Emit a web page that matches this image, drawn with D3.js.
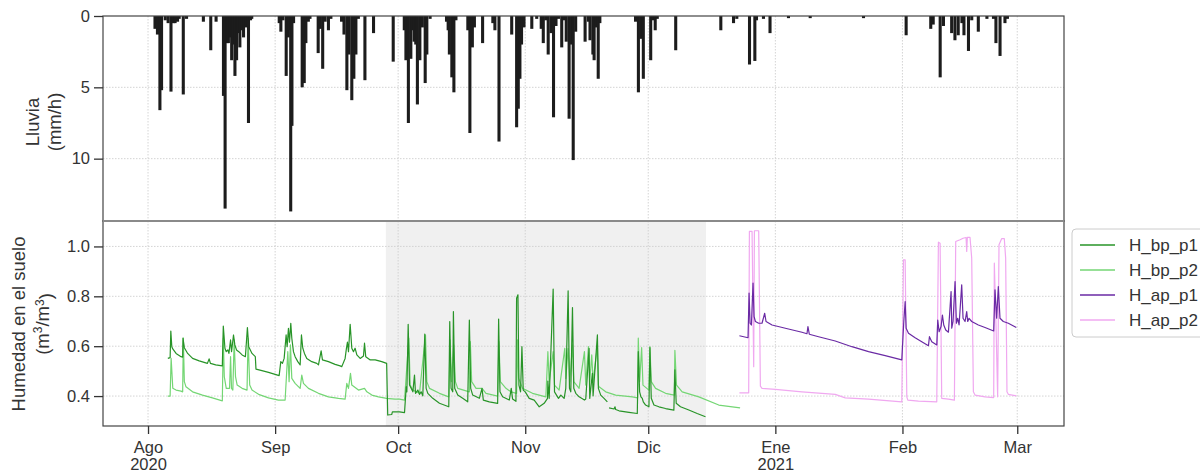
<!DOCTYPE html>
<html>
<head>
<meta charset="utf-8">
<script src="https://cdn.jsdelivr.net/npm/d3@7"></script>
<style>
  body { margin: 0; background: #fff; }
  svg { display: block; font-family: "Liberation Sans", Arial, sans-serif; }
</style>
</head>
<body>
<div id="chart"></div>
<script>
// days are counted from 2020-08-01 (UTC)
var BASE = Date.UTC(2020, 7, 1);

var monthTicks = ["2020-08-01", "2020-09-01", "2020-10-01", "2020-11-01", "2020-12-01", "2021-01-01", "2021-02-01", "2021-03-01"];
var monthLabels = ["Ago", "Sep", "Oct", "Nov", "Dic", "Ene", "Feb", "Mar"];
var yearLabels = ["2020", "", "", "", "", "2021", "", ""];

var rainTicks = [0, 5, 10];
var soilTicks = [0.4, 0.6, 0.8, 1.0];

// shaded period (days)
var shadePeriod = [58.0, 136.1];

// rain, [day, mm/h]
var rain = [
  [1.7, 0.9], [2.3, 1.3], [2.9, 6.6], [3.3, 5.2], [4.2, 0.3], [4.9, 0.5], [5.6, 5.3], [6.2, 0.5],
  [6.6, 0.5], [7.2, 0.4], [7.6, 0.2], [8.6, 5.5], [9.4, 0.2], [13.5, 0.4], [15.3, 2.4], [16.6, 0.4],
  [18.4, 5.6], [18.8, 13.5], [19.3, 1.9], [19.6, 1.9], [20.0, 1.5], [20.4, 3.1], [20.8, 2.0], [21.2, 4.2],
  [21.6, 3.1], [22.0, 1.2], [22.4, 2.2], [22.9, 1.0], [23.3, 1.5], [23.9, 0.8], [24.5, 7.5], [25.0, 0.3],
  [25.3, 0.2], [32.0, 0.5], [32.4, 1.1], [32.9, 0.3], [33.7, 4.2], [34.2, 1.5], [34.5, 1.0], [34.8, 13.7],
  [35.1, 7.7], [35.5, 0.5], [37.6, 5.0], [38.1, 4.7], [38.5, 1.9], [39.1, 0.4], [39.5, 0.2], [41.5, 2.6],
  [42.0, 0.9], [42.6, 3.7], [43.2, 0.4], [44.0, 1.0], [44.6, 0.2], [47.2, 0.4], [47.8, 1.3], [48.5, 5.2],
  [49.0, 2.7], [49.7, 5.9], [50.2, 4.4], [50.7, 2.7], [51.3, 0.2], [52.9, 4.5], [55.0, 1.2], [59.8, 3.2],
  [62.5, 1.0], [62.9, 3.1], [63.5, 7.5], [64.1, 3.0], [64.5, 1.0], [64.9, 1.8], [65.3, 2.0], [65.7, 6.2],
  [66.3, 3.1], [66.9, 0.8], [67.6, 4.7], [68.0, 2.7], [68.8, 0.2], [72.8, 0.4], [73.2, 1.0], [73.5, 2.7],
  [74.1, 4.3], [74.6, 5.35], [75.1, 0.3], [78.0, 1.0], [78.5, 8.2], [79.1, 2.2], [79.6, 0.8], [81.6, 1.9],
  [84.1, 0.5], [84.6, 1.0], [85.6, 8.8], [88.7, 1.3], [89.9, 7.8], [90.3, 6.5], [90.7, 4.4], [91.1, 2.0],
  [91.7, 0.8], [93.6, 0.9], [94.8, 0.2], [95.9, 0.9], [96.4, 1.9], [97.0, 0.3], [97.6, 2.7], [98.3, 1.2],
  [98.9, 7.1], [99.5, 0.7], [100.1, 0.2], [100.9, 2.2], [101.5, 0.3], [102.0, 1.8], [102.7, 7.2], [103.3, 2.0],
  [103.7, 10.1], [104.3, 1.1], [106.6, 1.8], [107.4, 0.4], [107.8, 1.7], [108.5, 2.7], [108.8, 3.1], [109.3, 0.8],
  [109.8, 4.4], [110.2, 0.5], [118.9, 0.4], [119.6, 5.35], [120.2, 1.6], [120.8, 4.4], [122.6, 3.1], [123.2, 0.3],
  [123.7, 1.0], [124.2, 0.2], [128.7, 2.4], [139.7, 1.0], [142.8, 0.5], [143.6, 0.2], [146.7, 3.4], [148.0, 3.15],
  [148.4, 0.3], [150.1, 0.2], [151.7, 1.2], [156.2, 0.15], [161.5, 0.15], [174.5, 0.15], [184.9, 1.35], [190.9, 0.9],
  [191.5, 0.6], [193.2, 4.3], [194.0, 0.7], [196.0, 1.2], [196.8, 1.7], [197.6, 1.35], [198.5, 0.5], [199.0, 1.35],
  [200.1, 2.45], [200.9, 0.3], [202.5, 1.1], [204.6, 0.2], [206.2, 0.2], [206.8, 1.9], [207.8, 2.8], [209.0, 0.5],
  [209.6, 0.2]
];

// soil moisture, [day, m3/m3]; null breaks the line
var H_bp_p1 = [
  [4.83, 0.551], [5.39, 0.554], [5.56, 0.661], [5.80, 0.598], [6.04, 0.589], [6.84, 0.571], [8.05, 0.558], [8.45, 0.556],
  [8.53, 0.632], [8.86, 0.594], [9.66, 0.571], [10.87, 0.551], [12.48, 0.541], [14.49, 0.531], [14.90, 0.549], [15.22, 0.531],
  [16.51, 0.525], [18.12, 0.521], [18.36, 0.681], [18.76, 0.592], [19.08, 0.578], [19.48, 0.585], [19.73, 0.571], [20.13, 0.625],
  [20.37, 0.578], [20.85, 0.645], [21.18, 0.605], [21.58, 0.585], [22.14, 0.578], [22.95, 0.565], [23.75, 0.558], [24.24, 0.675],
  [24.56, 0.598], [25.36, 0.571], [26.17, 0.558], [26.33, 0.508], [27.78, 0.502], [29.39, 0.495], [31.0, 0.487], [31.98, 0.482],
  [32.38, 0.538], [32.79, 0.531], [33.2, 0.551], [33.68, 0.645], [33.93, 0.598], [34.25, 0.672], [34.5, 0.616], [34.82, 0.692],
  [35.07, 0.632], [35.47, 0.578], [35.88, 0.558], [36.53, 0.538], [37.1, 0.525], [37.42, 0.645], [37.75, 0.592], [38.15, 0.571],
  [38.72, 0.551], [39.94, 0.538], [41.16, 0.531], [41.57, 0.525], [42.22, 0.581], [42.54, 0.545], [44.0, 0.538], [45.63, 0.527],
  [46.85, 0.521], [47.26, 0.518], [48.07, 0.551], [48.4, 0.592], [48.64, 0.616], [48.89, 0.578], [49.3, 0.688], [49.7, 0.592],
  [50.11, 0.578], [50.5, 0.592], [50.93, 0.565], [51.74, 0.551], [52.55, 0.561], [52.8, 0.612], [53.1, 0.558], [54.2, 0.545],
  [55.4, 0.545], [57.0, 0.538], [58.2, 0.531], [58.46, 0.324], [59.43, 0.326], [59.6, 0.337], [61.34, 0.337], [62.56, 0.334],
  [62.97, 0.437], [63.13, 0.417], [63.45, 0.688], [63.78, 0.444], [64.18, 0.431], [64.59, 0.417], [64.99, 0.484], [65.24, 0.411],
  [65.8, 0.424], [66.21, 0.407], [66.61, 0.417], [67.02, 0.401], [67.5, 0.648], [67.83, 0.431], [68.24, 0.411], [69.45, 0.391],
  [71.08, 0.371], [73.35, 0.357], [73.59, 0.699], [73.91, 0.431], [74.32, 0.417], [74.48, 0.739], [74.8, 0.431], [75.54, 0.404],
  [76.75, 0.391], [77.97, 0.377], [78.37, 0.705], [78.7, 0.431], [79.19, 0.404], [80.81, 0.391], [81.46, 0.431], [81.78, 0.384],
  [83.24, 0.377], [85.27, 0.371], [85.51, 0.709], [85.84, 0.417], [86.48, 0.397], [88.11, 0.384], [88.59, 0.431], [88.92, 0.388],
  [89.73, 0.379], [89.89, 0.792], [90.22, 0.806], [90.46, 0.444], [90.86, 0.417], [91.19, 0.598], [91.51, 0.424], [92.0, 0.417],
  [92.97, 0.391], [94.19, 0.384], [95.41, 0.357], [96.62, 0.371], [97.43, 0.391], [97.52, 0.46], [97.84, 0.391], [98.81, 0.829],
  [99.14, 0.417], [100.11, 0.391], [100.68, 0.404], [101.49, 0.391], [101.89, 0.431], [102.46, 0.822], [102.79, 0.431], [103.11, 0.417],
  [103.52, 0.755], [103.84, 0.431], [104.33, 0.411], [105.14, 0.397], [106.44, 0.384], [106.76, 0.388], [107.57, 0.591], [107.73, 0.391],
  [108.38, 0.491], [108.55, 0.401], [109.6, 0.645], [109.84, 0.431], [110.41, 0.404], [111.22, 0.391], [112.03, 0.377], null,
  [112.44, 0.353], [113.65, 0.348], [113.9, 0.357], [114.06, 0.346], [114.87, 0.341], [117.3, 0.335], [119.33, 0.33], [119.57, 0.578],
  [119.9, 0.417], [120.22, 0.397], [120.55, 0.391], [120.79, 0.377], [121.36, 0.364], [122.17, 0.357], [122.41, 0.594], [122.74, 0.391],
  [123.39, 0.364], [124.6, 0.357], [126.23, 0.350], [128.25, 0.344], [128.5, 0.505], [128.82, 0.371], [129.87, 0.357], [131.9, 0.344],
  [133.93, 0.330], [135.96, 0.317]
];

var H_bp_p2 = [
  [4.83, 0.400], [5.39, 0.400], [5.64, 0.551], [6.04, 0.431], [6.84, 0.424], [8.05, 0.420], [8.45, 0.417], [8.61, 0.632],
  [8.86, 0.458], [9.26, 0.437], [10.87, 0.417], [13.29, 0.404], [15.7, 0.393], [18.12, 0.381], [18.36, 0.632], [18.6, 0.478],
  [19.08, 0.431], [19.48, 0.431], [19.89, 0.431], [20.13, 0.558], [20.37, 0.431], [20.69, 0.424], [21.01, 0.625], [21.34, 0.478],
  [21.74, 0.444], [22.95, 0.431], [24.15, 0.424], [24.4, 0.632], [24.8, 0.444], [25.36, 0.424], [26.97, 0.407], [29.39, 0.393],
  [31.81, 0.384], [33.44, 0.384], [34.09, 0.578], [34.41, 0.458], [34.74, 0.605], [35.07, 0.471], [35.88, 0.451], [37.1, 0.431],
  [37.5, 0.484], [37.91, 0.451], [39.13, 0.431], [41.57, 0.411], [44.0, 0.397], [46.45, 0.391], [48.07, 0.388], [48.48, 0.451],
  [48.89, 0.431], [49.38, 0.491], [49.7, 0.444], [51.33, 0.424], [52.8, 0.431], [53.37, 0.417], [54.6, 0.404], [56.2, 0.397],
  [58.2, 0.391], [60.24, 0.388], [61.34, 0.388], [62.56, 0.384], [63.61, 0.632], [63.94, 0.444], [64.59, 0.424], [66.21, 0.411],
  [67.67, 0.645], [67.99, 0.458], [68.64, 0.431], [71.08, 0.411], [73.35, 0.397], [73.67, 0.625], [74.0, 0.458], [74.56, 0.605],
  [74.97, 0.458], [75.54, 0.431], [78.37, 0.417], [78.61, 0.618], [78.94, 0.458], [80.0, 0.431], [81.46, 0.431], [82.43, 0.411],
  [85.27, 0.400], [85.59, 0.618], [85.92, 0.458], [87.3, 0.431], [88.51, 0.417], [89.89, 0.411], [90.13, 0.625], [90.38, 0.471],
  [90.7, 0.458], [91.35, 0.431], [93.78, 0.411], [97.03, 0.397], [97.52, 0.578], [97.84, 0.458], [98.81, 0.578], [99.14, 0.444],
  [100.27, 0.424], [101.65, 0.591], [101.89, 0.471], [102.46, 0.591], [102.87, 0.458], [103.52, 0.605], [103.84, 0.458], [105.14, 0.431],
  [106.44, 0.578], [106.76, 0.444], [107.41, 0.598], [107.73, 0.458], [108.22, 0.565], [108.55, 0.458], [109.6, 0.600], [109.84, 0.444],
  [110.0, 0.437], [111.63, 0.417], [114.06, 0.404], [118.11, 0.397], [119.41, 0.393], [119.57, 0.632], [119.9, 0.458], [120.39, 0.594],
  [120.71, 0.444], [122.17, 0.424], [122.41, 0.598], [122.74, 0.458], [123.79, 0.431], [126.23, 0.411], [128.33, 0.404], [128.5, 0.583],
  [128.9, 0.444], [130.28, 0.417], [134.34, 0.397], [139.2, 0.364], [144.4, 0.353]
];

var H_ap_p1 = [
  [144.23, 0.642], [145.29, 0.638], [146.34, 0.634], [146.59, 0.813], [146.83, 0.692], [147.16, 0.685], [147.56, 0.853], [147.81, 0.719],
  [148.13, 0.699], [148.94, 0.692], [149.75, 0.692], [150.4, 0.732], [150.73, 0.699], [152.19, 0.685], [155.44, 0.672], [159.49, 0.656],
  [160.71, 0.650], [160.95, 0.679], [161.28, 0.648], [163.55, 0.638], [167.61, 0.621], [171.67, 0.598], [175.73, 0.578], [179.79, 0.562],
  [183.84, 0.545], [184.33, 0.699], [184.66, 0.779], [184.9, 0.672], [185.47, 0.652], [187.09, 0.634], [188.71, 0.618], [190.34, 0.602],
  [190.58, 0.638], [191.15, 0.618], [192.37, 0.605], [192.61, 0.705], [192.94, 0.658], [193.42, 0.679], [193.75, 0.725], [194.07, 0.685],
  [194.56, 0.665], [195.21, 0.656], [195.86, 0.819], [196.02, 0.672], [196.34, 0.699], [196.83, 0.859], [197.16, 0.692], [197.48, 0.712],
  [197.81, 0.685], [198.45, 0.846], [198.78, 0.712], [199.27, 0.699], [199.67, 0.739], [199.92, 0.699], [200.24, 0.712], [200.89, 0.699],
  [202.51, 0.685], [204.14, 0.675], [206.25, 0.661], [206.57, 0.826], [206.98, 0.712], [207.38, 0.839], [207.79, 0.712], [208.6, 0.699],
  [209.82, 0.692], [211.77, 0.675]
];

var H_ap_p2 = [
  [144.23, 0.413], [146.5, 0.413], [146.67, 1.06], [147.32, 1.06], [147.72, 0.518], [147.89, 1.063], [148.94, 1.063], [149.35, 0.44],
  [149.75, 0.431], [153.0, 0.427], [159.49, 0.417], [167.61, 0.407], [170.05, 0.393], [175.73, 0.388], [183.84, 0.377], [184.25, 0.946],
  [184.66, 0.946], [185.06, 0.397], [185.31, 0.384], [187.9, 0.380], [192.37, 0.377], [192.77, 1.017], [193.18, 1.013], [193.58, 0.391],
  [195.21, 0.388], [196.67, 0.384], [196.99, 1.02], [198.05, 1.027], [198.78, 1.033], [199.51, 1.036], [199.67, 0.98], [199.83, 1.036],
  [200.48, 1.036], [200.89, 0.953], [201.3, 0.417], [201.7, 0.404], [204.14, 0.397], [206.25, 0.394], [206.41, 0.933], [206.81, 0.69],
  [207.22, 0.397], [207.55, 1.007], [208.19, 1.031], [208.84, 1.031], [209.17, 0.953], [209.49, 0.417], [209.82, 0.407], [211.77, 0.401]
];

var seriesNames = ["H_bp_p1", "H_bp_p2", "H_ap_p1", "H_ap_p2"];
var seriesData = [H_bp_p1, H_bp_p2, H_ap_p1, H_ap_p2];
var seriesColors = ["#289428", "#74d674", "#6a2aa4", "#f0a8f0"];

function dayToDate(d) { return new Date(BASE + d * 864e5); }

var W = 1200, H = 475;
var left = 103, right = 1064;
var topY0 = 16, topY1 = 221;   // rain panel
var botY0 = 221, botY1 = 426;  // soil panel

var svg = d3.select("#chart").append("svg")
    .attr("width", W)
    .attr("height", H);

var x = d3.scaleUtc()
    .domain([dayToDate(-10.98), dayToDate(223.4)])
    .range([left, right]);

var yRain = d3.scaleLinear().domain([0, 14.37]).range([topY0, topY1]);
var ySoil = d3.scaleLinear().domain([0.28, 1.102]).range([botY1, botY0]);

var tickDates = monthTicks.map(function (s) { return new Date(s + "T00:00:00Z"); });

// shaded period in soil panel
svg.append("rect")
    .attr("x", x(dayToDate(shadePeriod[0])))
    .attr("y", botY0)
    .attr("width", x(dayToDate(shadePeriod[1])) - x(dayToDate(shadePeriod[0])))
    .attr("height", botY1 - botY0)
    .attr("fill", "#f0f0f0");

// grid
var grid = svg.append("g")
    .attr("stroke", "#cfcfcf")
    .attr("stroke-width", 0.9)
    .attr("stroke-dasharray", "1.5,1.5");

[[topY0, topY1], [botY0, botY1]].forEach(function (p) {
    grid.selectAll(null)
        .data(tickDates)
        .enter().append("line")
        .attr("x1", function (d) { return x(d); })
        .attr("x2", function (d) { return x(d); })
        .attr("y1", p[0])
        .attr("y2", p[1]);
});
grid.selectAll(null)
    .data(rainTicks.slice(1))
    .enter().append("line")
    .attr("x1", left).attr("x2", right)
    .attr("y1", function (d) { return yRain(d); })
    .attr("y2", function (d) { return yRain(d); });
grid.selectAll(null)
    .data(soilTicks)
    .enter().append("line")
    .attr("x1", left).attr("x2", right)
    .attr("y1", function (d) { return ySoil(d); })
    .attr("y2", function (d) { return ySoil(d); });

// rain bars (hanging from the top)
var barW = x(dayToDate(0.75)) - x(dayToDate(0));
svg.append("g")
    .attr("clip-path", "url(#clipTop)")
    .selectAll("rect")
    .data(rain)
    .enter().append("rect")
    .attr("x", function (d) { return x(dayToDate(d[0])) - barW / 2; })
    .attr("y", yRain(0))
    .attr("width", barW)
    .attr("height", function (d) { return yRain(d[1]) - yRain(0); })
    .attr("fill", "#1c1c1c");

// soil moisture lines
var line = d3.line()
    .defined(function (d) { return d !== null; })
    .x(function (d) { return x(dayToDate(d[0])); })
    .y(function (d) { return ySoil(d[1]); });

// draw light ones first so darker traces sit on top
var drawOrder = [1, 0, 3, 2];
drawOrder.forEach(function (i) {
    svg.append("path")
        .datum(seriesData[i])
        .attr("fill", "none")
        .attr("stroke", seriesColors[i])
        .attr("stroke-width", 1.2)
        .attr("stroke-linejoin", "round")
        .attr("d", line);
});

// frames
svg.append("rect")
    .attr("x", left).attr("y", topY0)
    .attr("width", right - left).attr("height", topY1 - topY0)
    .attr("fill", "none").attr("stroke", "#444").attr("stroke-width", 1.2);
svg.append("rect")
    .attr("x", left).attr("y", botY0)
    .attr("width", right - left).attr("height", botY1 - botY0)
    .attr("fill", "none").attr("stroke", "#444").attr("stroke-width", 1.2);
svg.append("line")
    .attr("x1", left).attr("x2", right)
    .attr("y1", topY1).attr("y2", topY1)
    .attr("stroke", "#8a8a8a").attr("stroke-width", 2);

// axes
function styleAxis(g) {
    g.select(".domain").remove();
    g.selectAll(".tick line").attr("stroke", "#333").attr("stroke-width", 1.3);
    g.selectAll(".tick text").attr("fill", "#333").attr("font-size", "16.5px");
}

svg.append("g")
    .attr("transform", "translate(" + left + ",0)")
    .call(d3.axisLeft(yRain).tickValues(rainTicks).tickSize(9).tickPadding(4).tickFormat(d3.format("d")))
    .call(styleAxis);

svg.append("g")
    .attr("transform", "translate(" + left + ",0)")
    .call(d3.axisLeft(ySoil).tickValues(soilTicks).tickSize(9).tickPadding(4).tickFormat(d3.format(".1f")))
    .call(styleAxis);

var xAxis = svg.append("g")
    .attr("transform", "translate(0," + botY1 + ")")
    .call(d3.axisBottom(x).tickValues(tickDates).tickSize(8).tickPadding(7)
        .tickFormat(function (d, i) { return monthLabels[i]; }))
    .call(styleAxis);

xAxis.selectAll(".tick text")
    .each(function (d, i) {
        if (yearLabels[i]) {
            d3.select(this).append("tspan")
                .attr("x", 0)
                .attr("dy", "1.05em")
                .text(yearLabels[i]);
        }
    });

// axis titles
function yTitle(cx, cy, lines, size) {
    var t = svg.append("text")
        .attr("transform", "translate(" + cx + "," + cy + ") rotate(-90)")
        .attr("text-anchor", "middle")
        .attr("fill", "#333")
        .attr("font-size", size);
    lines.forEach(function (l, i) {
        var ts = t.append("tspan").attr("x", 0).attr("dy", i === 0 ? "0" : "1.2em");
        l(ts);
    });
}

yTitle(39, 122, [
    function (ts) { ts.text("Lluvia"); },
    function (ts) { ts.text("(mm/h)"); }
], "18.5px");

var soilTitle = svg.append("text")
    .attr("transform", "translate(25,324) rotate(-90)")
    .attr("text-anchor", "middle")
    .attr("fill", "#333")
    .attr("font-size", "18.5px");
soilTitle.append("tspan").attr("x", 0).text("Humedad en el suelo");
var unit = soilTitle.append("tspan").attr("x", 0).attr("dy", "1.3em");
unit.append("tspan").text("(m");
unit.append("tspan").attr("font-size", "12px").attr("dy", "-0.6em").text("3");
unit.append("tspan").attr("dy", "0.4em").text("/m");
unit.append("tspan").attr("font-size", "12px").attr("dy", "-0.4em").text("3");
unit.append("tspan").attr("dy", "0.4em").text(")");

// legend
var legend = svg.append("g").attr("transform", "translate(1072,229)");
legend.append("rect")
    .attr("width", 140).attr("height", 108)
    .attr("rx", 4)
    .attr("fill", "#fff")
    .attr("stroke", "#cccccc");
seriesNames.forEach(function (name, i) {
    var ly = 16 + i * 25;
    legend.append("line")
        .attr("x1", 8).attr("x2", 43)
        .attr("y1", ly).attr("y2", ly)
        .attr("stroke", seriesColors[i])
        .attr("stroke-width", 1.4);
    legend.append("text")
        .attr("x", 57).attr("y", ly)
        .attr("dy", "0.35em")
        .attr("fill", "#333")
        .attr("font-size", "17px")
        .text(name);
});
</script>
</body>
</html>
